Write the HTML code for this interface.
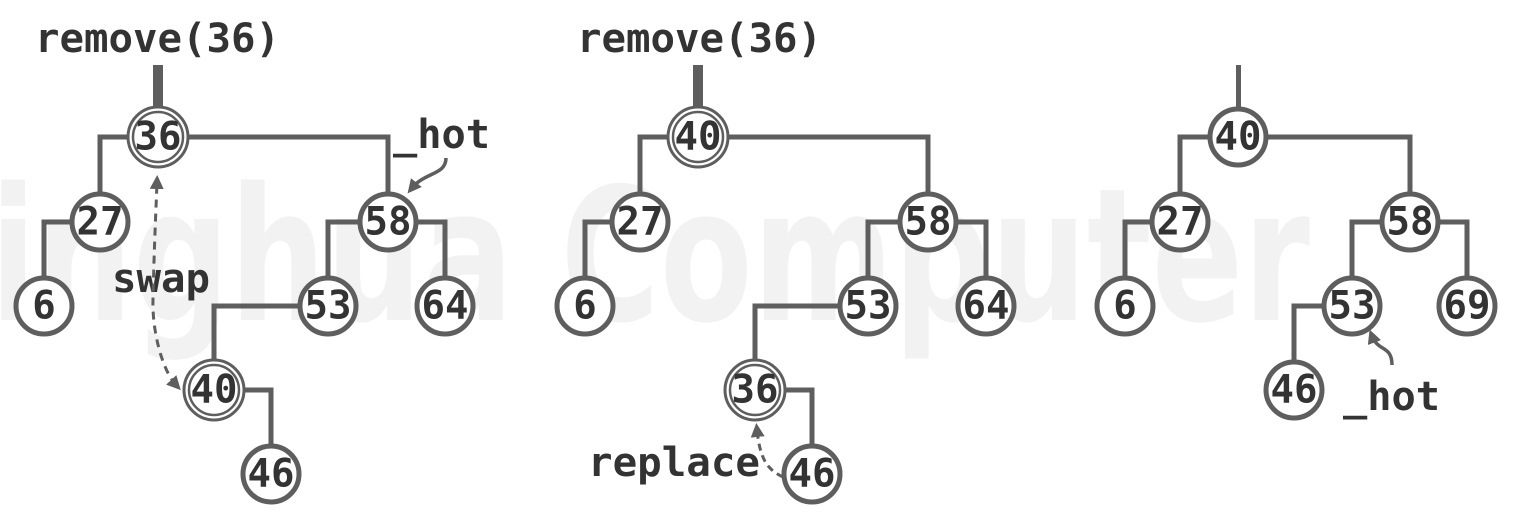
<!DOCTYPE html>
<html><head><meta charset="utf-8"><style>
html,body{margin:0;padding:0;background:#fff;}
svg{display:block;}
text{font-family:"DejaVu Sans Mono","Liberation Mono",monospace;font-weight:bold;fill:#333;}
.n{font-size:39px;text-anchor:middle;dominant-baseline:central;}
.l{font-size:40px;}
.e{fill:none;stroke:#5e5e5e;stroke-width:5;}
.c{fill:#fff;stroke:#5e5e5e;stroke-width:5;}
.d{fill:#fff;stroke:#5e5e5e;stroke-width:3;}
</style></head><body>
<svg width="1515" height="532" viewBox="0 0 1515 532" xmlns="http://www.w3.org/2000/svg">
<defs>
<marker id="a2" markerWidth="14" markerHeight="14" refX="7" refY="7" orient="auto-start-reverse" markerUnits="userSpaceOnUse"><path d="M0,0 L14,7 L0,14 z" fill="#5e5e5e"/></marker></defs>
<text x="-10" y="320" textLength="1320" lengthAdjust="spacingAndGlyphs" style="font-family:'DejaVu Sans',sans-serif;font-size:185px;font-weight:bold;fill:#f2f2f2">inghua Computer</text>

<!-- Tree 1 -->
<rect x="153" y="65" width="10" height="42" fill="#5e5e5e"/>
<path class="e" d="M130,137 H100 V194 M186,137 H388 V194 M72,222 H44 V278 M360,222 H328 V278 M416,222 H445 V278 M300,306 H214 V362 M242,390 H271 V446"/>
<circle class="d" cx="158" cy="137" r="30"/><circle cx="158" cy="137" r="25" fill="none" stroke="#5e5e5e" stroke-width="2.5"/><text class="n" x="158" y="137">36</text>
<circle class="c" cx="100" cy="222" r="28"/><text class="n" x="100" y="222">27</text>
<circle class="c" cx="388" cy="222" r="28"/><text class="n" x="388" y="222">58</text>
<circle class="c" cx="44" cy="306" r="28"/><text class="n" x="44" y="306">6</text>
<circle class="c" cx="328" cy="306" r="28"/><text class="n" x="328" y="306">53</text>
<circle class="c" cx="445" cy="306" r="28"/><text class="n" x="445" y="306">64</text>
<circle class="d" cx="214" cy="390" r="30"/><circle cx="214" cy="390" r="25" fill="none" stroke="#5e5e5e" stroke-width="2.5"/><text class="n" x="214" y="390">40</text>
<circle class="c" cx="271" cy="474" r="28"/><text class="n" x="271" y="474">46</text>
<text class="l" x="35" y="52" textLength="245" lengthAdjust="spacingAndGlyphs">remove(36)</text>
<text class="l" x="393" y="148" textLength="97" lengthAdjust="spacingAndGlyphs">_hot</text>
<path d="M446,158 C446,175 425,172 412,188" fill="none" stroke="#5e5e5e" stroke-width="3.5" marker-end="url(#a2)"/>
<text class="l" x="112" y="292" textLength="98" lengthAdjust="spacingAndGlyphs">swap</text>
<path d="M176,385 C162,370 152,330 153,300 C154,250 156,210 157,182" fill="none" stroke="#5e5e5e" stroke-width="3" stroke-dasharray="8,6" marker-end="url(#a2)" marker-start="url(#a2)"/>

<!-- Tree 2 -->
<rect x="693" y="65" width="10" height="42" fill="#5e5e5e"/>
<path class="e" d="M670,137 H640 V194 M726,137 H928 V194 M612,222 H585 V278 M900,222 H868 V278 M956,222 H986 V278 M840,306 H755 V362 M783,390 H812 V446"/>
<circle class="d" cx="698" cy="137" r="30"/><circle cx="698" cy="137" r="25" fill="none" stroke="#5e5e5e" stroke-width="2.5"/><text class="n" x="698" y="137">40</text>
<circle class="c" cx="640" cy="222" r="28"/><text class="n" x="640" y="222">27</text>
<circle class="c" cx="928" cy="222" r="28"/><text class="n" x="928" y="222">58</text>
<circle class="c" cx="585" cy="306" r="28"/><text class="n" x="585" y="306">6</text>
<circle class="c" cx="868" cy="306" r="28"/><text class="n" x="868" y="306">53</text>
<circle class="c" cx="986" cy="306" r="28"/><text class="n" x="986" y="306">64</text>
<circle class="d" cx="755" cy="390" r="30"/><circle cx="755" cy="390" r="25" fill="none" stroke="#5e5e5e" stroke-width="2.5"/><text class="n" x="755" y="390">36</text>
<circle class="c" cx="812" cy="474" r="28"/><text class="n" x="812" y="474">46</text>
<text class="l" x="577" y="52" textLength="245" lengthAdjust="spacingAndGlyphs">remove(36)</text>
<text class="l" x="588" y="476" textLength="172" lengthAdjust="spacingAndGlyphs">replace</text>
<path d="M783,477 C768,470 760,460 757,430" fill="none" stroke="#5e5e5e" stroke-width="3" stroke-dasharray="7,5" marker-end="url(#a2)"/>

<!-- Tree 3 -->
<rect x="1236" y="65" width="5" height="42" fill="#5e5e5e"/>
<path class="e" d="M1210,137 H1180 V194 M1266,137 H1410 V194 M1152,222 H1125 V278 M1382,222 H1352 V278 M1438,222 H1467 V278 M1324,306 H1294 V362"/>
<circle class="c" cx="1238" cy="137" r="28"/><text class="n" x="1238" y="137">40</text>
<circle class="c" cx="1180" cy="222" r="28"/><text class="n" x="1180" y="222">27</text>
<circle class="c" cx="1410" cy="222" r="28"/><text class="n" x="1410" y="222">58</text>
<circle class="c" cx="1125" cy="306" r="28"/><text class="n" x="1125" y="306">6</text>
<circle class="c" cx="1352" cy="306" r="28"/><text class="n" x="1352" y="306">53</text>
<circle class="c" cx="1467" cy="306" r="28"/><text class="n" x="1467" y="306">69</text>
<circle class="c" cx="1294" cy="390" r="28"/><text class="n" x="1294" y="390">46</text>
<text class="l" x="1343" y="410" textLength="97" lengthAdjust="spacingAndGlyphs">_hot</text>
<path d="M1392,365 C1392,345 1378,352 1372,336" fill="none" stroke="#5e5e5e" stroke-width="3.5" marker-end="url(#a2)"/>
</svg>
</body></html>
